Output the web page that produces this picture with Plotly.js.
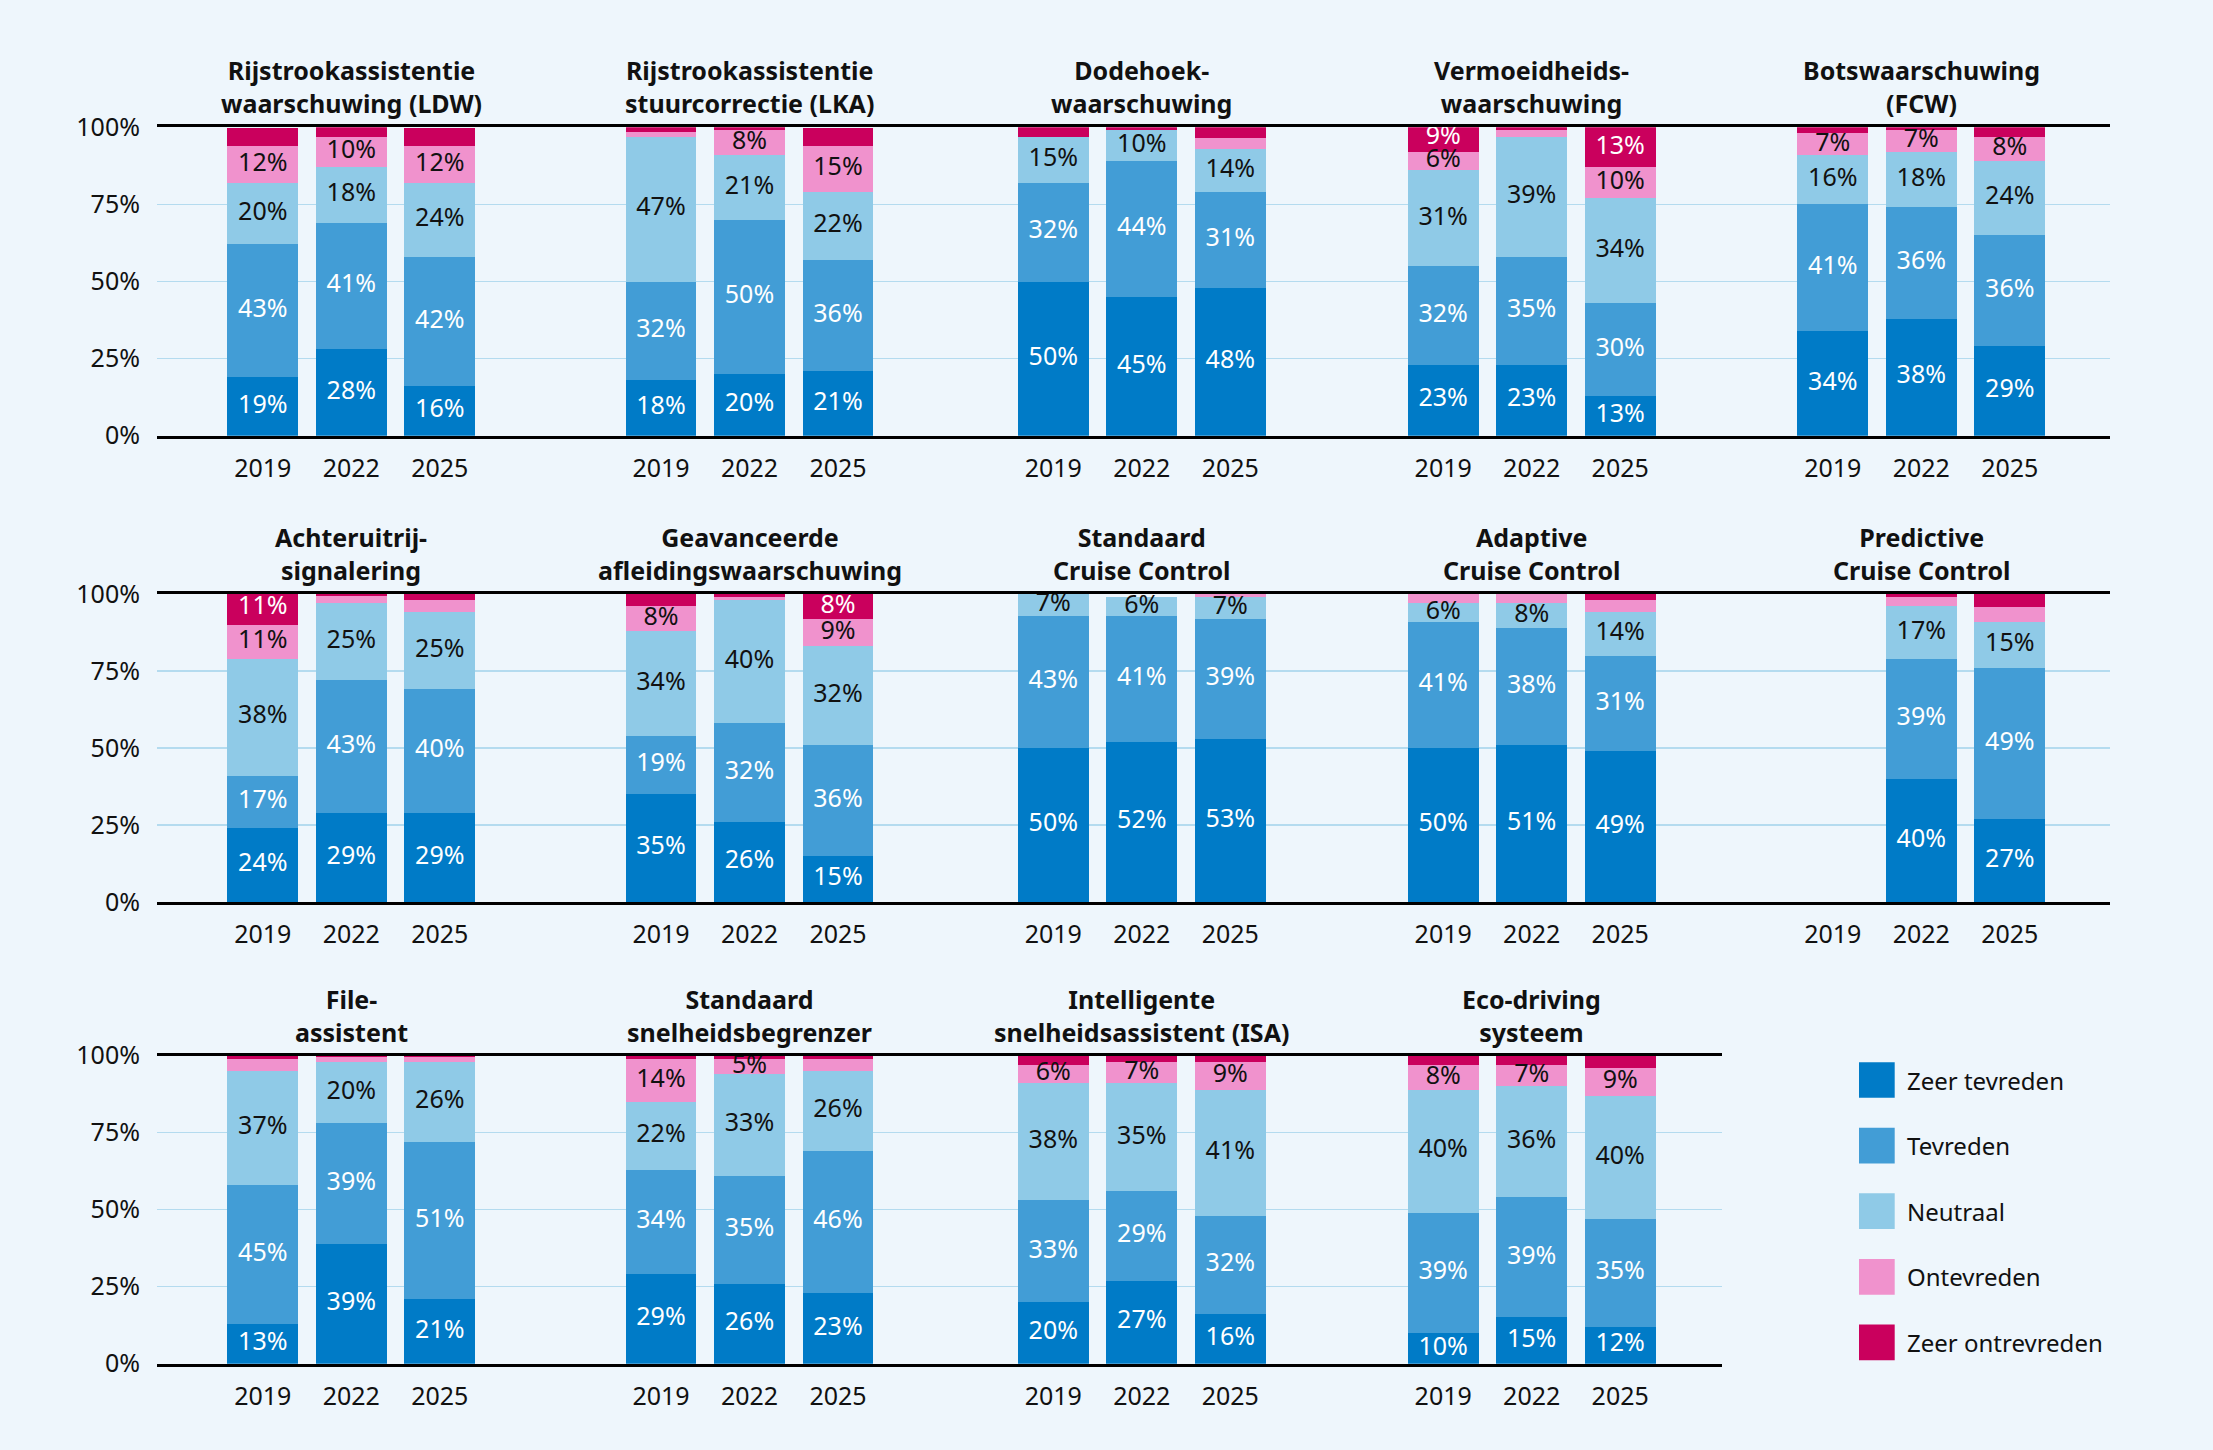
<!DOCTYPE html>
<html>
<head>
<meta charset="utf-8">
<script src="https://cdn.plot.ly/plotly-3.0.1.min.js"></script>
<style>
  html, body { margin: 0; padding: 0; background: #eef6fc; }
  #chart { width: 2213px; height: 1450px; }
</style>
</head>
<body>
<div id="chart"></div>
<script>
// Tevredenheid over rijhulpsystemen, per meting (2019, 2022, 2025)
const years = ['2019', '2022', '2025'];

const features = [
  'Rijstrookassistentie<br>waarschuwing (LDW)',
  'Rijstrookassistentie<br>stuurcorrectie (LKA)',
  'Dodehoek-<br>waarschuwing',
  'Vermoeidheids-<br>waarschuwing',
  'Botswaarschuwing<br>(FCW)',
  'Achteruitrij-<br>signalering',
  'Geavanceerde<br>afleidingswaarschuwing',
  'Standaard<br>Cruise Control',
  'Adaptive<br>Cruise Control',
  'Predictive<br>Cruise Control',
  'File-<br>assistent',
  'Standaard<br>snelheidsbegrenzer',
  'Intelligente<br>snelheidsassistent (ISA)',
  'Eco-driving<br>systeem'
];

const levels = ['Zeer tevreden', 'Tevreden', 'Neutraal', 'Ontevreden', 'Zeer ontrevreden'];

// Shares in % per system (rows) and year (columns).
// Small shares without a printed percentage carry a decimal.
const zeerTevreden = [
  [19, 28, 16], [18, 20, 21], [50, 45, 48], [23, 23, 13], [34, 38, 29],
  [24, 29, 29], [35, 26, 15], [50, 52, 53], [50, 51, 49], [null, 40, 27],
  [13, 39, 21], [29, 26, 23], [20, 27, 16], [10, 15, 12]
];
const tevreden = [
  [43, 41, 42], [32, 50, 36], [32, 44, 31], [32, 35, 30], [41, 36, 36],
  [17, 43, 40], [19, 32, 36], [43, 41, 39], [41, 38, 31], [null, 39, 49],
  [45, 39, 51], [34, 35, 46], [33, 29, 32], [39, 39, 35]
];
const neutraal = [
  [20, 18, 24], [47, 21, 22], [15, 10, 14], [31, 39, 34], [16, 18, 24],
  [38, 25, 25], [34, 40, 32], [7, 6, 7], [6, 8, 14], [null, 17, 15],
  [37, 20, 26], [22, 33, 26], [38, 35, 41], [40, 36, 40]
];
const ontevreden = [
  [12, 10, 12], [1.5, 8, 15], [0, 0, 3.6], [6, 2, 10], [7, 7, 8],
  [11, 2.5, 4], [8, 1, 9], [0, 0, 1], [3, 3, 4], [null, 3, 4.8],
  [4, 1.5, 1.5], [14, 5, 4], [6, 7, 9], [8, 7, 9]
];
const zeerOntevreden = [
  [5.9, 3, 5.9], [1.5, 1, 5.9], [3, 1, 3.4], [9, 1, 13], [2, 1, 3],
  [11, 0.5, 2], [4, 1, 8], [0, 0, 0], [0, 0, 2], [null, 1, 4.2],
  [1, 0.5, 0.5], [1, 1, 1], [3, 2, 2], [3, 3, 4]
];

const series = [zeerTevreden, tevreden, neutraal, ontevreden, zeerOntevreden];

const yTickVals = [0, 25, 50, 75, 100];
const yTickText = ['0%', '25%', '50%', '75%', '100%'];

// ---- styling and placement (pixels on a 2213 x 1450 page) ----
const W = 2213, H = 1450;
const FONT = 'Noto Sans, Open Sans, sans-serif';
const INK = '#111111';
const BG = '#eef6fc';
const fillColors = ['#007bc7', '#429dd6', '#8fcae7', '#f092cd', '#ca005d'];
const labelInk = ['#ffffff', '#ffffff', INK, INK, '#ffffff'];

const rowPx = [[127.3, 435.7], [594, 902], [1055.7, 1363.7]];  // [100% line, 0% line]
const rowEnd = [2110, 2110, 1722];
const colMid = [351.3, 749.5, 1141.8, 1531.7, 1921.3];          // centre of the middle bar
const colEdge = [157, 550, 945.6, 1336.6, 1726.4, 2110];
const pitch = 88.5;                                              // px per category

const px = v => v / W;
const py = v => 1 - v / H;

const data = [];
const layout = {
  width: W, height: H, autosize: false,
  margin: { l: 0, r: 0, t: 0, b: 0 },
  paper_bgcolor: BG, plot_bgcolor: BG,
  font: { family: FONT, size: 25, color: INK },
  barmode: 'stack', bargap: 0.2,
  showlegend: false,
  annotations: [], shapes: []
};

// one shared y axis per row
rowPx.forEach((r, ri) => {
  const key = ri === 0 ? 'yaxis' : 'yaxis' + (ri + 1);
  layout[key] = {
    domain: [py(r[1]), py(r[0])],
    range: [0, 100],
    anchor: 'x' + (ri === 0 ? '' : ri * 5 + 1),
    tickvals: yTickVals, ticktext: yTickText,
    ticks: '', ticklabelstandoff: 16,
    tickfont: { size: 25, color: INK },
    showgrid: true, gridcolor: '#b4dbef', gridwidth: 1.5,
    zeroline: false, showline: false, fixedrange: true
  };
});

features.forEach((title, i) => {
  const r = Math.floor(i / 5), c = i % 5;
  const xId = i === 0 ? 'x' : 'x' + (i + 1);
  const yId = r === 0 ? 'y' : 'y' + (r + 1);
  const x0 = colEdge[c];
  const x1 = Math.min(colEdge[c + 1], rowEnd[r]);
  const mid = colMid[c];

  layout[i === 0 ? 'xaxis' : 'xaxis' + (i + 1)] = {
    domain: [px(x0), px(x1)],
    type: 'category', categoryorder: 'array', categoryarray: years,
    range: [1 + (x0 - mid) / pitch, 1 + (x1 - mid) / pitch],
    anchor: yId,
    ticks: '', ticklabelstandoff: 8,
    tickfont: { size: 25, color: INK },
    showgrid: false, zeroline: false,
    showline: true, mirror: true, linecolor: '#000000', linewidth: 3,
    fixedrange: true
  };

  // stacked segments
  series.forEach((s, k) => {
    data.push({
      type: 'bar', x: years, y: s[i], name: levels[k],
      xaxis: xId, yaxis: yId,
      marker: { color: fillColors[k], line: { width: 0 } },
      textposition: 'none', hoverinfo: 'skip'
    });
  });

  // percentage labels in the middle of each printed segment
  const lx = [], ly = [], lt = [], lc = [];
  years.forEach((yr, j) => {
    let base = 0;
    series.forEach((s, k) => {
      const v = s[i][j];
      if (v == null) return;
      if (Number.isInteger(v) && v >= 5) {
        lx.push(yr); ly.push(base + v / 2); lt.push(v + '%'); lc.push(labelInk[k]);
      }
      base += v;
    });
  });
  data.push({
    type: 'scatter', mode: 'text', x: lx, y: ly, text: lt,
    textposition: 'middle center',
    textfont: { family: FONT, size: 25, color: lc },
    xaxis: xId, yaxis: yId, cliponaxis: false, hoverinfo: 'skip'
  });

  // two-line bold title above the panel
  layout.annotations.push({
    xref: 'paper', yref: 'paper', x: px(mid), y: py(rowPx[r][0] - 40.5),
    xanchor: 'center', yanchor: 'middle', showarrow: false,
    text: title, align: 'center',
    font: { family: FONT, size: 25, color: INK, weight: 700 }
  });
});

// legend
const legX = 1859, legSize = 35.7, legY0 = 1080, legStep = 65.6;
levels.forEach((name, k) => {
  const cy = legY0 + k * legStep;
  layout.shapes.push({
    type: 'rect', xref: 'paper', yref: 'paper',
    x0: px(legX), x1: px(legX + legSize),
    y0: py(cy + legSize / 2), y1: py(cy - legSize / 2),
    fillcolor: fillColors[k], line: { width: 0 }
  });
  layout.annotations.push({
    xref: 'paper', yref: 'paper', x: px(1905), y: py(cy),
    xanchor: 'left', yanchor: 'middle', showarrow: false,
    text: name, font: { family: FONT, size: 24, color: INK }
  });
});

Plotly.newPlot('chart', data, layout, { displayModeBar: false, staticPlot: true });
</script>
</body>
</html>
